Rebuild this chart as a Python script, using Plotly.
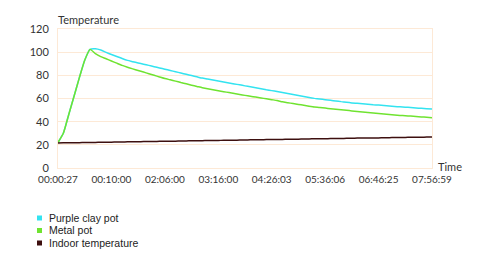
import plotly.graph_objects as go

tick_labels = ["00:00:27", "00:10:00", "02:06:00", "03:16:00",
               "04:26:03", "05:36:06", "06:46:25", "07:56:59"]

purple_clay = [22, 30, 46, 62, 78, 93, 102.4, 102.9, 101.8, 99.8,
               98.0, 96.3, 94.5, 92.9, 91.8, 90.7, 89.6, 88.6, 87.5, 86.4,
               85.3, 84.2, 83.1, 82.0, 80.9, 79.8, 78.7, 77.6, 76.8, 75.9,
               75.1, 74.3, 73.4, 72.6, 71.8, 70.9, 70.1, 69.3, 68.5, 67.6,
               66.8, 66.0, 65.1, 64.3, 63.4, 62.6, 61.8, 60.9, 60.1, 59.5,
               59.0, 58.4, 57.9, 57.3, 56.8, 56.2, 55.8, 55.4, 55.0, 54.6,
               54.3, 53.9, 53.5, 53.1, 52.8, 52.5, 52.2, 51.8, 51.5, 51.2,
               50.9]

metal = [22, 30, 46, 62, 78, 93, 102.4, 98.8, 96.2, 94.3,
         92.4, 90.5, 88.6, 87.0, 85.6, 84.2, 82.8, 81.4, 80.0, 78.6,
         77.2, 76.1, 75.0, 73.8, 72.7, 71.5, 70.4, 69.3, 68.4, 67.5,
         66.7, 65.9, 65.1, 64.3, 63.5, 62.7, 62.0, 61.2, 60.5, 59.7,
         59.0, 58.3, 57.1, 56.4, 55.6, 54.9, 54.2, 53.4, 52.7, 52.3,
         51.7, 51.2, 50.7, 50.3, 49.8, 49.3, 48.8, 48.4, 47.9, 47.5,
         47.0, 46.6, 46.2, 45.8, 45.4, 45.1, 44.8, 44.4, 44.1, 43.8,
         43.4]

indoor = [21.6, 21.7, 21.7, 21.8, 21.9, 22.0, 22.0, 22.1, 22.2, 22.3,
          22.3, 22.4, 22.5, 22.6, 22.6, 22.7, 22.8, 22.9, 22.9, 23.0,
          23.1, 23.2, 23.2, 23.3, 23.4, 23.5, 23.5, 23.6, 23.7, 23.7,
          23.8, 23.9, 24.0, 24.0, 24.1, 24.2, 24.3, 24.3, 24.4, 24.5,
          24.6, 24.6, 24.7, 24.8, 24.9, 24.9, 25.0, 25.1, 25.2, 25.2,
          25.3, 25.4, 25.5, 25.5, 25.6, 25.7, 25.8, 25.8, 25.9, 26.0,
          26.0, 26.1, 26.2, 26.3, 26.3, 26.4, 26.5, 26.6, 26.6, 26.7,
          26.8]

series_names = ["Purple clay pot", "Metal pot", "Indoor temperature"]
series_values = [purple_clay, metal, indoor]
colors = ["#33e3f0", "#6fe330", "#3d0f0f"]

n = len(purple_clay)
x = list(range(n))
step = (n - 1) // (len(tick_labels) - 1)
tickvals = x[::step]

fig = go.Figure()
for name, vals, c in zip(series_names, series_values, colors):
    fig.add_trace(go.Scatter(x=x, y=vals, mode="lines", name=name,
                             line=dict(color=c, width=1.5, shape="spline",
                                       smoothing=0.5),
                             showlegend=False))

grid = "#fde9d6"
axis_font = dict(family="Lato, sans-serif", size=10, color="#333333")

fig.update_layout(
    width=500, height=274,
    margin=dict(l=58, r=68, t=29, b=106),
    paper_bgcolor="white", plot_bgcolor="white",
    xaxis=dict(range=[0, n - 1], tickmode="array", tickvals=tickvals,
               ticktext=tick_labels, showgrid=False, zeroline=False,
               showline=True, linecolor=grid, linewidth=1, mirror=True,
               ticks="", tickfont=axis_font, ticklabelstandoff=2),
    yaxis=dict(range=[0, 120], dtick=20, showgrid=True, gridcolor=grid,
               zeroline=False, showline=True, linecolor=grid, linewidth=1,
               mirror=True, ticks="",
               tickfont=dict(family="Lato, sans-serif", size=11, color="#333333"),
               ticklabelstandoff=6),
)

fig.add_annotation(text="Temperature", xref="paper", yref="paper",
                   x=0, y=1, xanchor="left", yanchor="bottom", yshift=1,
                   xshift=-2, showarrow=False,
                   font=dict(family="Lato, sans-serif", size=11, color="#333333"))
fig.add_annotation(text="Time", xref="paper", yref="paper",
                   x=1, y=0, xanchor="left", yanchor="middle", xshift=4,
                   yshift=2, showarrow=False,
                   font=dict(family="Lato, sans-serif", size=11, color="#333333"))

# legend drawn below the chart
plot_h = 274 - 29 - 106
plot_w = 500 - 58 - 68
for i, (name, c) in enumerate(zip(series_names, colors)):
    ypix = 218 + i * 12.5
    yp = (168 - ypix) / plot_h
    x0 = (37 - 58) / plot_w
    x1 = (42 - 58) / plot_w
    fig.add_shape(type="rect", xref="paper", yref="paper",
                  x0=x0, x1=x1, y0=yp - 2.5 / plot_h, y1=yp + 2.5 / plot_h,
                  fillcolor=c, line=dict(width=0))
    fig.add_annotation(text=name, xref="paper", yref="paper",
                       x=(47 - 58) / plot_w, y=yp, xanchor="left",
                       yanchor="middle", showarrow=False,
                       font=dict(family="Liberation Sans, Arial, sans-serif",
                                 size=10.5, color="#222222"))

fig.write_html("out.html")
